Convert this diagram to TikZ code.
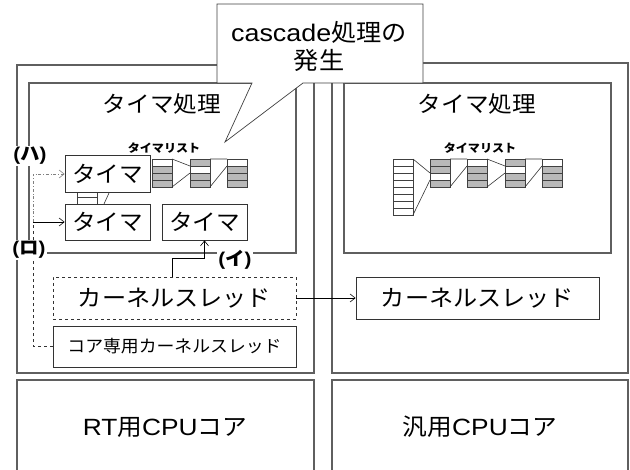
\documentclass[tikz,border=0pt]{standalone}
\usepackage{fontspec}
\setmainfont[FakeStretch=1.12]{Liberation Sans}
\newfontfamily\jp[FakeStretch=1.05]{Noto Sans CJK JP}
\usetikzlibrary{arrows.meta}
\definecolor{boxline}{RGB}{95,95,95}
\definecolor{cellgray}{RGB}{185,185,185}
\newcommand\cellstack[3]{%
  \foreach \f [count=\i from 0] in {#3}{%
    \filldraw[fill=\f, draw=black!75, line width=0.5pt] (#1,#2+\i*7) rectangle ++(20,7);}}
\begin{document}
\begin{tikzpicture}[x=1pt,y=-1pt,
  bigbox/.style={draw=boxline, line width=1.3pt},
  callout/.style={fill=white, draw=black!75, line width=0.7pt},
  tbox/.style={draw=black!80, line width=0.8pt, fill=white, inner sep=0pt,
    minimum width=85pt, minimum height=37pt, font=\fontsize{22.5}{24}\selectfont\jp},
  kbox/.style={draw=black!80, line width=0.8pt, fill=white, inner sep=0pt,
    minimum width=243pt, minimum height=42pt},
  big/.style={font=\fontsize{22.5}{24}\selectfont},
  small/.style={font=\fontsize{11.5}{13}\selectfont\jp\bfseries},
  lbl/.style={fill=white, inner sep=1.5pt, font=\fontsize{18.5}{20}\selectfont\bfseries},
  link/.style={draw=black!80, line width=0.6pt},
  arr/.style={-{Straight Barb[length=5pt,width=8pt]}, line width=0.6pt},
]
\useasboundingbox (0,0) rectangle (630,470);
% containers
\draw[bigbox] (17,65) rectangle (314,373);
\draw[bigbox] (29,83) rectangle (296,253);
\draw[bigbox] (332,63) rectangle (628,373);
\draw[bigbox] (344,83) rectangle (611,253);
\draw[bigbox] (17,472) -- (17,380) -- (314,380) -- (314,472);
\draw[bigbox] (332,472) -- (332,380) -- (628,380) -- (628,472);
% callout
\draw[callout] (217,4) -- (423,4) -- (423,83) -- (303,83) -- (225,142) -- (252,83) -- (217,83) -- cycle;
\node[align=center, font=\fontsize{24}{28}\selectfont] (call) at (319,46) {cascade{\jp 処理の}\\{\jp 発生}};
% titles
\node[big] (tp1) at (162,104) {\jp タイマ処理};
\node[big] (tp2) at (477,104) {\jp タイマ処理};
\node[small] (tl1) at (164,148) {タイマリスト};
\node[small] (tl2) at (480,148) {タイマリスト};
% left timer list
\cellstack{152}{159}{white,cellgray,cellgray,cellgray}
\cellstack{190}{159}{cellgray,white,cellgray,cellgray}
\cellstack{227}{159}{white,cellgray,cellgray,cellgray}
\draw[link] (172,159) -- (190,166) (172,187) -- (190,173);
\draw[link] (210,159) -- (227,159) (210,187) -- (227,166);
\cellstack{77}{190}{white,white}
\draw[link] (104,204) -- (109,193);
% right timer list
\cellstack{393}{159}{white,white,white,white,white,white,white,white}
\cellstack{430}{159}{cellgray,cellgray,white,cellgray}
\cellstack{467}{159}{white,cellgray,cellgray,cellgray}
\cellstack{505}{159}{cellgray,white,cellgray,cellgray}
\cellstack{542}{159}{white,cellgray,cellgray,cellgray}
\draw[link] (413,159) -- (430,173) (413,215) -- (430,180);
\draw[link] (450,159) -- (467,159) (450,187) -- (467,166);
\draw[link] (487,159) -- (505,166) (487,187) -- (505,173);
\draw[link] (525,159) -- (542,159) (525,187) -- (542,166);
% timers
\node[tbox] (t1) at (107.5,174) {タイマ};
\node[tbox, minimum height=36pt] (t2) at (107.5,222) {タイマ};
\node[tbox, minimum height=36pt] (t3) at (204.5,222) {タイマ};
% kernel threads
\node[kbox, dashed, font=\fontsize{23}{25}\selectfont\jp] (kt1) at (174.5,298) {カーネルスレッド};
\node[kbox, minimum height=41pt, font=\fontsize{17}{19}\selectfont\jp] (core) at (174.5,346.5) {コア専用カーネルスレッド};
\node[kbox, font=\fontsize{23}{25}\selectfont\jp] (kt2) at (477.5,298) {カーネルスレッド};
% CPU cores
\node[font=\fontsize{23.5}{25}\selectfont] (cpu1) at (165,427) {RT{\jp 用}CPU{\jp コア}};
\node[font=\fontsize{23.5}{25}\selectfont] (cpu2) at (480,427) {{\jp 汎用}CPU{\jp コア}};
% connectors
\coordinate (c1) at (33,222);
\draw[dashed, line width=0.7pt, black!80] (core.west) -| (c1);
\draw[arr] (c1) -- (t2.west);
\draw[arr, dash dot, gray] (c1) |- (t1.west);
\draw[arr] (kt1.north west) ++(120,0) |- ([yshift=-18pt]t3.south) -- (t3.south);
\draw[arr] (kt1.east) -- (kt2.west);
% labels
\node[lbl] (lh) at (30,156) {({\jp ハ})};
\node[lbl] (lr) at (29,250) {({\jp ロ})};
\node[lbl] (li) at (235,260) {({\jp イ})};
\end{tikzpicture}
\end{document}
